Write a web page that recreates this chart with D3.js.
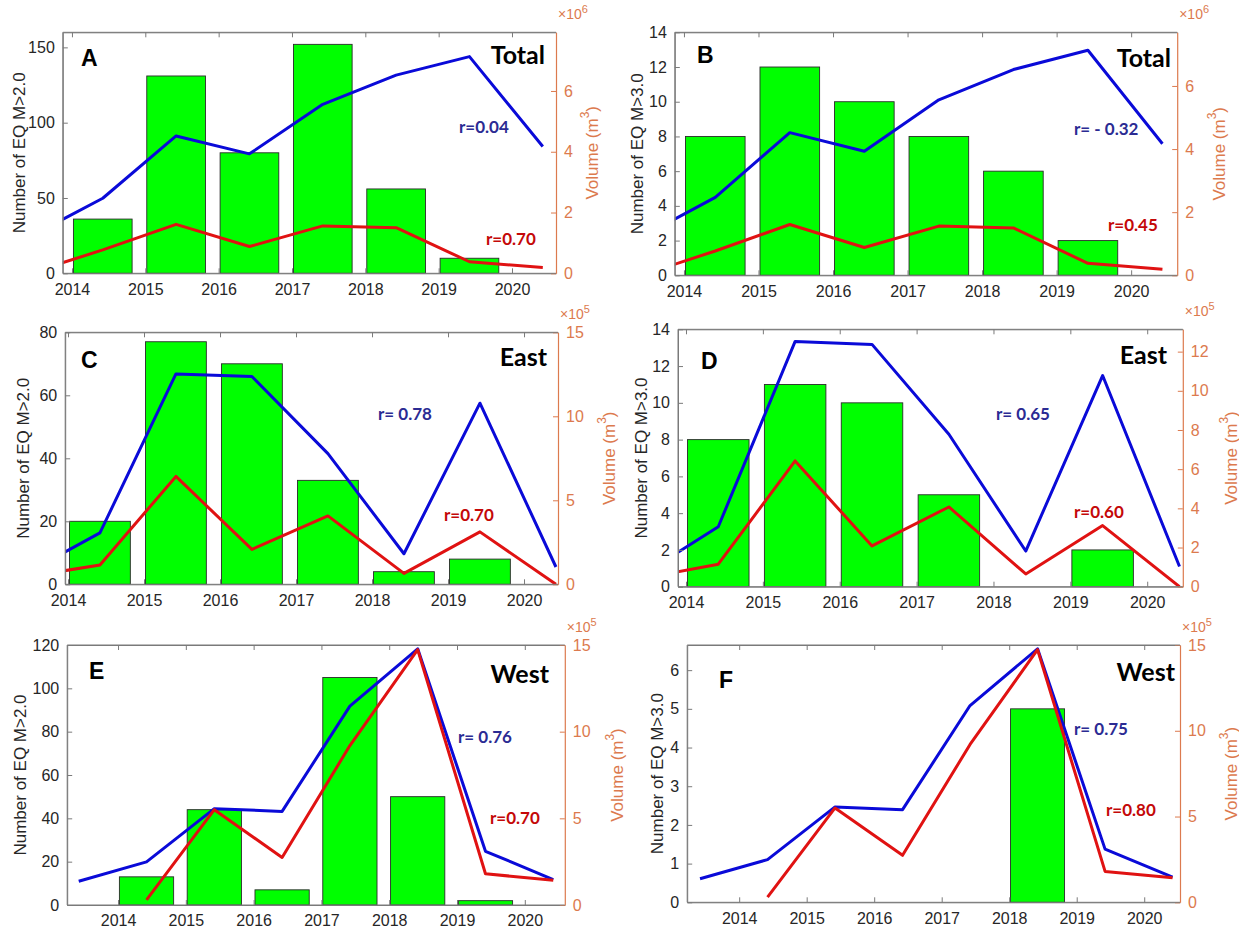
<!DOCTYPE html>
<html><head><meta charset="utf-8">
<script src="https://cdn.jsdelivr.net/npm/d3@7"></script>
<style>body{margin:0;background:#fff}svg{display:block}</style></head>
<body><svg id="c" width="1239" height="934"></svg>
<script>
// ---------- data ----------
const years = [2014, 2015, 2016, 2017, 2018, 2019, 2020];
const lineYears = [2013, 2014, 2015, 2016, 2017, 2018, 2019, 2020];
// volumes (blue / red), Total in x10^6 m3, East & West in x10^5 m3
const totalBlue = [1.20, 2.47, 4.52, 3.93, 5.56, 6.52, 7.13, 4.17];
const totalRed  = [0.00, 0.77, 1.61, 0.88, 1.56, 1.50, 0.38, 0.19];
const eastBlue  = [0.58, 3.06, 12.52, 12.37, 7.78, 1.82, 10.78, 1.03];
const eastRed   = [0.42, 1.15, 6.42, 2.08, 4.07, 0.65, 3.12, 0.00];
const westBlue  = [1.37, 2.49, 5.56, 5.40, 11.47, 14.78, 3.10, 1.47];
const westRed   = [null, 0.30, 5.50, 2.74, 9.20, 14.73, 1.80, 1.43];
// earthquake counts per year
const countsA = [36, 131, 80, 152, 56, 10, 0];   // Total M>2.0
const countsB = [8, 12, 10, 8, 6, 2, 0];         // Total M>3.0
const countsC = [20, 77, 70, 33, 4, 8, 0];       // East M>2.0
const countsD = [8, 11, 10, 5, 0, 2, 0];         // East M>3.0
const countsE = [13, 44, 7, 105, 50, 2, 0];      // West M>2.0
const countsF = [0, 0, 0, 0, 5, 0, 0];           // West M>3.0
const rLabels = {A:["r=0.04","r=0.70"], B:["r= - 0.32","r=0.45"], C:["r= 0.78","r=0.70"],
                 D:["r= 0.65","r=0.60"], E:["r= 0.76","r=0.70"], F:["r= 0.75","r=0.80"]};

// ---------- layout ----------
const panels = [
 {id:"A", region:"Total", counts:countsA, blue:totalBlue, red:totalRed, exp:6, yLabel:"Number of EQ M>2.0",
  box:[62.8,556,32.3,273.3], xDom:[2013.875,2020.6], yDom:[0,160], yTicks:[0,50,100,150], vDom:[0,7.93], vTicks:[0,2,4,6],
  letter:[81,66], reg:[545,64], rb:[459,133], rr:[486,245], ylx:19, vlx:592},
 {id:"B", region:"Total", counts:countsB, blue:totalBlue, red:totalRed, exp:6, yLabel:"Number of EQ M>3.0",
  box:[674.8,1177.2,32.3,275.3], xDom:[2013.877,2020.618], yDom:[0,14], yTicks:[0,2,4,6,8,10,12,14], vDom:[0,7.7], vTicks:[0,2,4,6],
  letter:[697,63], reg:[1171,67], rb:[1074,135], rr:[1108,231], ylx:637, vlx:1219},
 {id:"C", region:"East", counts:countsC, blue:eastBlue, red:eastRed, exp:5, yLabel:"Number of EQ M>2.0",
  box:[65.2,558,332.3,584.3], xDom:[2013.963,2020.447], yDom:[0,80], yTicks:[0,20,40,60,80], vDom:[0,15], vTicks:[0,5,10,15],
  letter:[81,368], reg:[547,366], rb:[378,420], rr:[444,521], ylx:23, vlx:609},
 {id:"D", region:"East", counts:countsD, blue:eastBlue, red:eastRed, exp:5, yLabel:"Number of EQ M>3.0",
  box:[678,1182.8,329.3,586.7], xDom:[2013.896,2020.463], yDom:[0,14], yTicks:[0,2,4,6,8,10,12,14], vDom:[0,13.14], vTicks:[0,2,4,6,8,10,12],
  letter:[701,369], reg:[1167,364], rb:[996,420], rr:[1074,518], ylx:641, vlx:1231},
 {id:"E", region:"West", counts:countsE, blue:westBlue, red:westRed, exp:5, yLabel:"Number of EQ M>2.0",
  box:[67.2,564.8,645,905], xDom:[2013.25,2020.59], yDom:[0,120], yTicks:[0,20,40,60,80,100,120], vDom:[0,15], vTicks:[0,5,10,15],
  letter:[89,679], reg:[549,683], rb:[458,743], rr:[490,824], ylx:20, vlx:617},
 {id:"F", region:"West", counts:countsF, blue:westBlue, red:westRed, exp:5, yLabel:"Number of EQ M>3.0",
  box:[687.2,1180,645,902.3], xDom:[2013.23,2020.53], yDom:[0,6.65], yTicks:[0,1,2,3,4,5,6], vDom:[0,15], vTicks:[0,5,10,15],
  letter:[719,688], reg:[1175,681], rb:[1074,735], rr:[1106,816], ylx:657, vlx:1231}
];

const AX = "#7a7a7a", TXT = "#262626", OR = "#dc7a4e";
const BLUE = "#0a0ad8", RED = "#e01212";
const FONT = "Liberation Sans, Arial, sans-serif";
const svg = d3.select("#c");
const defs = svg.append("defs");
const barOffset = 0.42, barWidth = 0.8, lineOffset = 0.42;

panels.forEach(p => {
  const [L, R, T, B] = p.box;
  const x = d3.scaleLinear().domain(p.xDom).range([L, R]);
  const y = d3.scaleLinear().domain(p.yDom).range([B, T]);
  const v = d3.scaleLinear().domain(p.vDom).range([B, T]);
  const g = svg.append("g");

  defs.append("clipPath").attr("id", "clip" + p.id)
    .append("rect").attr("x", L).attr("y", T).attr("width", R - L).attr("height", B - T);

  // bars
  g.append("g").selectAll("rect").data(years.map((yr, i) => ({yr, c: p.counts[i]})).filter(d => d.c > 0))
    .join("rect")
    .attr("x", d => x(d.yr + barOffset - barWidth / 2))
    .attr("width", d => x(d.yr + barOffset + barWidth / 2) - x(d.yr + barOffset - barWidth / 2))
    .attr("y", d => y(d.c)).attr("height", d => y(0) - y(d.c))
    .attr("fill", "#00ff00").attr("stroke", "#2a2a2a").attr("stroke-width", 0.9);

  // lines
  const line = d3.line().defined(d => d.val != null).x(d => x(d.yr + lineOffset)).y(d => v(d.val));
  const lg = g.append("g").attr("clip-path", `url(#clip${p.id})`);
  [[p.blue, BLUE], [p.red, RED]].forEach(([arr, col]) => {
    lg.append("path").datum(lineYears.map((yr, i) => ({yr, val: arr[i]})))
      .attr("d", line).attr("fill", "none").attr("stroke", col)
      .attr("stroke-width", 3).attr("stroke-linejoin", "round");
  });

  // bottom axis
  const gx = g.append("g").attr("transform", `translate(0,${B})`)
    .call(d3.axisBottom(x).tickValues(years).tickFormat(d3.format("d")).tickSizeInner(-5).tickSizeOuter(0).tickPadding(10));
  // top axis (mirror ticks)
  const gt = g.append("g").attr("transform", `translate(0,${T})`)
    .call(d3.axisTop(x).tickValues(years).tickFormat("").tickSizeInner(-5).tickSizeOuter(0));
  // left axis
  const gy = g.append("g").attr("transform", `translate(${L},0)`)
    .call(d3.axisLeft(y).tickValues(p.yTicks).tickFormat(d3.format("d")).tickSizeInner(-5).tickSizeOuter(0).tickPadding(8));
  // right axis
  const gv = g.append("g").attr("transform", `translate(${R},0)`)
    .call(d3.axisRight(v).tickValues(p.vTicks).tickFormat(d3.format("d")).tickSizeInner(-5).tickSizeOuter(0).tickPadding(8));

  [gx, gt, gy].forEach(a => {
    a.select(".domain").attr("stroke", AX).attr("stroke-width", 1);
    a.selectAll(".tick line").attr("stroke", AX);
    a.selectAll("text").attr("fill", TXT).attr("font-family", FONT).attr("font-size", 16);
  });
  gv.select(".domain").attr("stroke", OR).attr("stroke-width", 1.2);
  gv.selectAll(".tick line").attr("stroke", OR);
  gv.selectAll("text").attr("fill", OR).attr("font-family", FONT).attr("font-size", 16);
  // full box lines
  g.append("line").attr("x1", L).attr("x2", R).attr("y1", T).attr("y2", T).attr("stroke", AX);
  g.append("line").attr("x1", L).attr("x2", R).attr("y1", B).attr("y2", B).attr("stroke", AX);
  g.append("line").attr("x1", L).attr("x2", L).attr("y1", T).attr("y2", B).attr("stroke", AX);

  // exponent label
  const ex = g.append("text").attr("x", R + 2).attr("y", T - 13).attr("fill", OR)
    .attr("font-family", FONT).attr("font-size", 14);
  ex.append("tspan").text("\u00d710");
  ex.append("tspan").attr("dy", -6).attr("font-size", 11).text(p.exp);

  // axis titles
  const cy = (T + B) / 2;
  g.append("text").attr("transform", `translate(${p.ylx},${cy}) rotate(-90)`)
    .attr("text-anchor", "middle").attr("dominant-baseline", "central")
    .attr("font-family", FONT).attr("font-size", 17).attr("fill", TXT)
    .text(p.yLabel);
  const vl = g.append("text").attr("transform", `translate(${p.vlx},${cy}) rotate(-90)`)
    .attr("text-anchor", "middle").attr("dominant-baseline", "central")
    .attr("font-family", FONT).attr("font-size", 17).attr("fill", OR);
  vl.append("tspan").text("Volume (m");
  vl.append("tspan").attr("dy", -7).attr("font-size", 12).text("3");
  vl.append("tspan").attr("dy", 7).text(")");

  // annotations
  g.append("text").attr("x", p.letter[0]).attr("y", p.letter[1]).text(p.id)
    .attr("font-family", FONT).attr("font-weight", "bold").attr("font-size", 23).attr("fill", "#000");
  g.append("text").attr("x", p.reg[0]).attr("y", p.reg[1]).attr("text-anchor", "end").text(p.region)
    .attr("font-family", "Lato, 'Open Sans', sans-serif").attr("font-weight", "bold").attr("font-size", 25).attr("fill", "#000");
  g.append("text").attr("x", p.rb[0]).attr("y", p.rb[1]).text(rLabels[p.id][0])
    .attr("font-family", "Lato, 'Open Sans', sans-serif").attr("font-weight", "bold").attr("font-size", 17).attr("fill", "#2b2b93");
  g.append("text").attr("x", p.rr[0]).attr("y", p.rr[1]).text(rLabels[p.id][1])
    .attr("font-family", "Lato, 'Open Sans', sans-serif").attr("font-weight", "bold").attr("font-size", 17).attr("fill", "#c40808");
});
</script></body></html>
